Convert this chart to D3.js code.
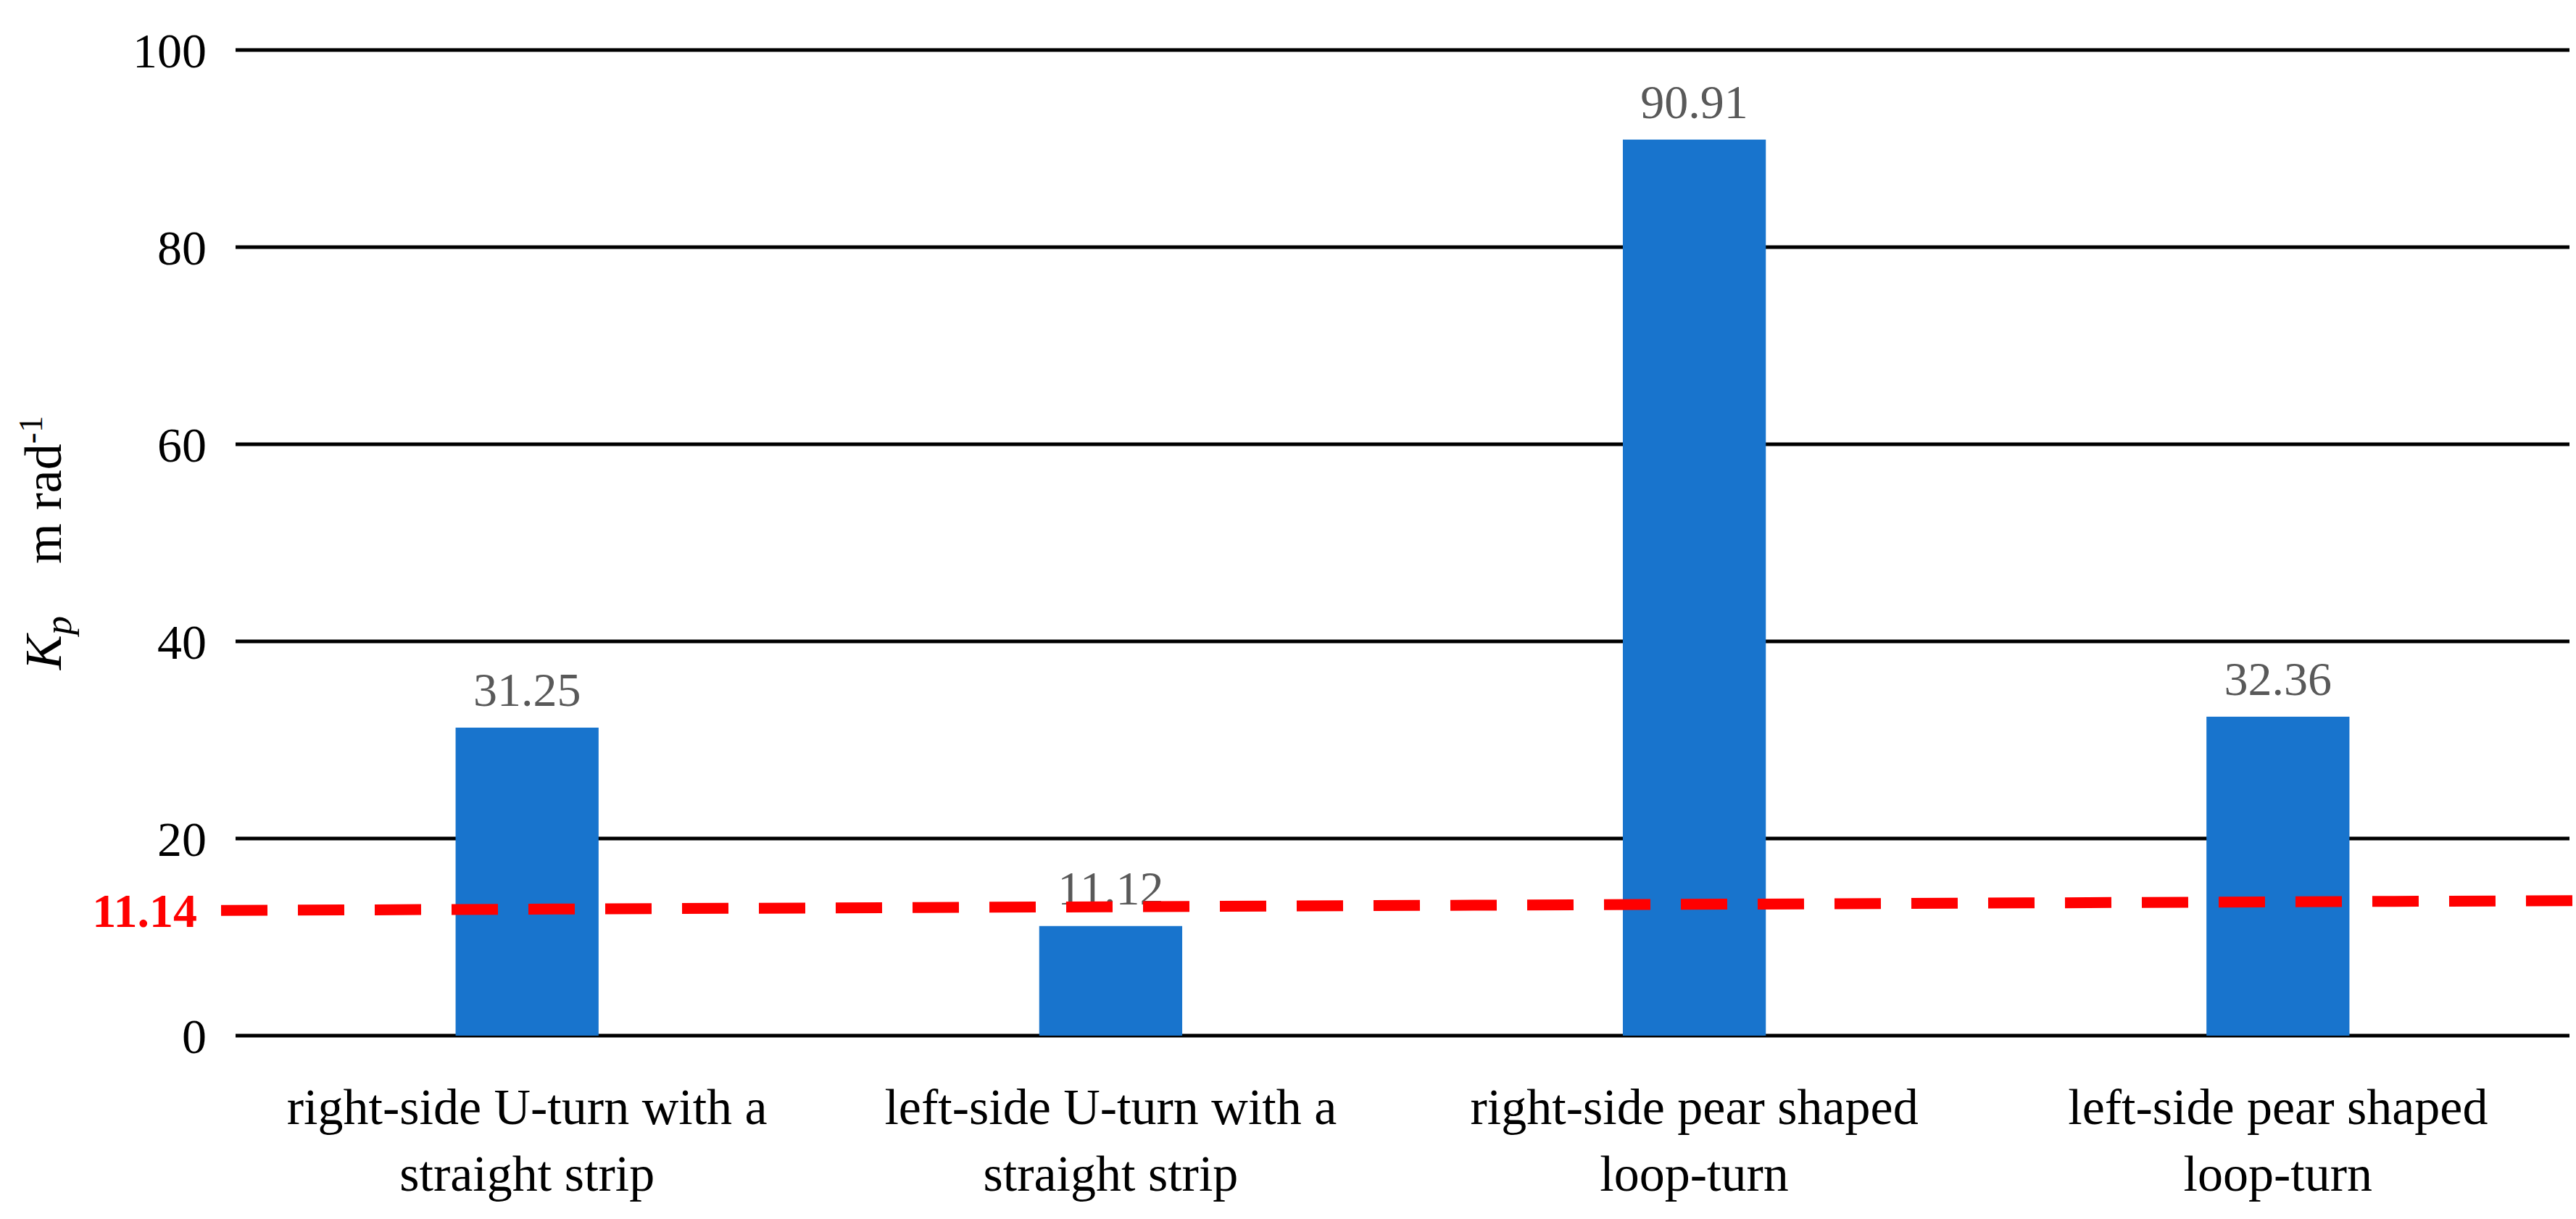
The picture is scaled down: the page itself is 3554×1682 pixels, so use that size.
<!DOCTYPE html>
<html><head><meta charset="utf-8">
<script src="https://cdn.jsdelivr.net/npm/d3@7"></script>
<style>body{margin:0;background:#fff}</style>
</head><body>
<div class="chart"></div>
<script>
const categories = [
    ["right-side U-turn with a", "straight strip"],
    ["left-side U-turn with a", "straight strip"],
    ["right-side pear shaped", "loop-turn"],
    ["left-side pear shaped", "loop-turn"]
];
const values = [31.25, 11.12, 90.91, 32.36];
const yTicks = [0, 20, 40, 60, 80, 100];
const refLabel = "11.14";
const refLine = [12.7, 13.7]; // drawn slightly sloped in the source

(() => {
    const width = 3554, height = 1682;
    const margin = {left: 325, right: 9, top: 69, bottom: 253};

    const svg = d3.select('.chart').append('svg')
        .attr('width', width).attr('height', height)
        .style('font-family', '"Liberation Serif", serif');

    const x = d3.scaleBand()
        .domain(d3.range(categories.length))
        .range([margin.left, width - margin.right])
        .paddingInner(0.755).paddingOuter(0.377);

    const y = d3.scaleLinear()
        .domain([0, 100])
        .range([height - margin.bottom, margin.top]);

    // gridlines
    svg.append('g').selectAll('line')
        .data(yTicks).enter().append('line')
        .attr('x1', margin.left).attr('x2', width - margin.right)
        .attr('y1', d => y(d)).attr('y2', d => y(d))
        .attr('stroke', '#000').attr('stroke-width', 5);

    svg.append('g').selectAll('text')
        .data(yTicks).enter().append('text')
        .attr('x', margin.left - 40).attr('y', d => y(d))
        .attr('dy', '0.35em').attr('text-anchor', 'end')
        .attr('font-size', 68).text(d => d);

    svg.append('g').selectAll('rect')
        .data(values).enter().append('rect')
        .attr('x', (d, i) => x(i)).attr('width', x.bandwidth())
        .attr('y', d => y(d)).attr('height', d => y(0) - y(d))
        .attr('fill', '#1874cd');

    svg.append('g').selectAll('text')
        .data(values).enter().append('text')
        .attr('x', (d, i) => x(i) + x.bandwidth() / 2)
        .attr('y', d => y(d) - 30)
        .attr('text-anchor', 'middle').attr('font-size', 66)
        .attr('fill', '#595959').text(d => d.toFixed(2));

    // category labels
    const cat = svg.append('g').selectAll('text')
        .data(categories).enter().append('text')
        .attr('text-anchor', 'middle').attr('font-size', 70);
    cat.each(function(d, i) {
        d3.select(this).selectAll('tspan').data(d).enter().append('tspan')
            .attr('x', x(i) + x.bandwidth() / 2)
            .attr('y', (t, j) => y(0) + 122 + j * 92)
            .text(t => t);
    });

    // reference line
    svg.append('line')
        .attr('x1', 305).attr('x2', width)
        .attr('y1', y(refLine[0])).attr('y2', y(refLine[1]))
        .attr('stroke', '#ff0000').attr('stroke-width', 15)
        .attr('stroke-dasharray', '64 42');
    svg.append('text')
        .attr('x', 272).attr('y', y(refLine[0]))
        .attr('dy', '0.35em').attr('text-anchor', 'end')
        .attr('font-size', 66).attr('font-weight', 'bold')
        .attr('fill', '#ff0000').text(refLabel);

    // y-axis title
    const yt = svg.append('text')
        .attr('transform', `translate(84,${y(50)}) rotate(-90)`)
        .attr('text-anchor', 'middle').attr('font-size', 72);
    yt.append('tspan').attr('font-style', 'italic').text('K');
    yt.append('tspan').attr('font-style', 'italic').attr('font-size', 52).attr('dy', 14).text('p');
    yt.append('tspan').attr('dy', -14).text('\u2003m rad');
    yt.append('tspan').attr('font-size', 46).attr('dy', -26).text('-1');
})();
</script>
</body></html>
